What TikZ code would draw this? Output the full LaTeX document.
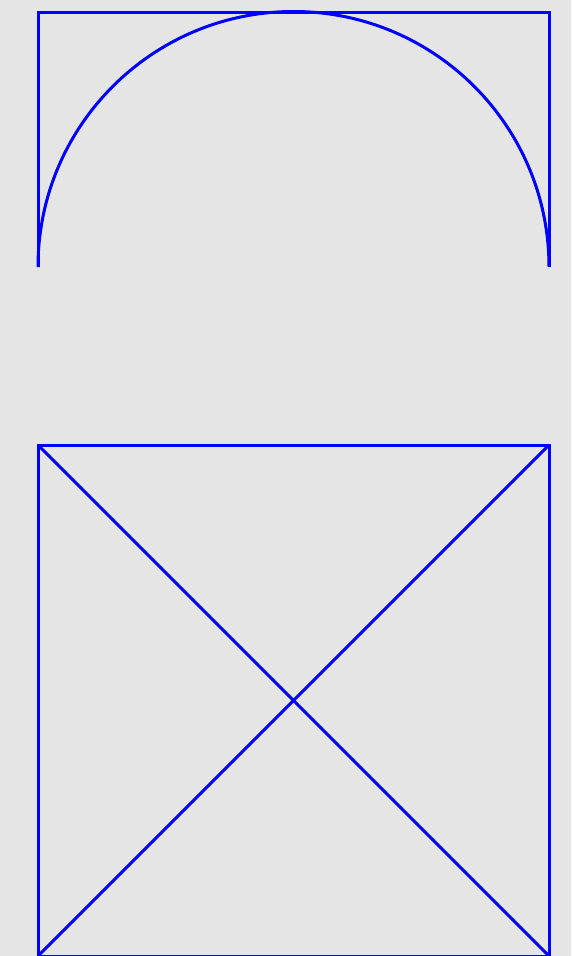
\documentclass[tikz,border=0pt]{standalone}
\begin{document}
\begin{tikzpicture}[x=1pt, y=-1pt]
  \fill[gray!20] (0,0) rectangle (571,956);
  \useasboundingbox (0,0) rectangle (571,956);
  \begin{scope}[blue, line width=3pt]
    \draw (38,267) -- (38,12) -- (549,12) -- (549,267);
    \draw (38,267) arc[start angle=180, end angle=0, x radius=255.5, y radius=-255.5];
    \draw (38,445) rectangle (549,956);
    \draw (38,445) -- (549,956);
    \draw (38,956) -- (549,445);
  \end{scope}
\end{tikzpicture}
\end{document}
